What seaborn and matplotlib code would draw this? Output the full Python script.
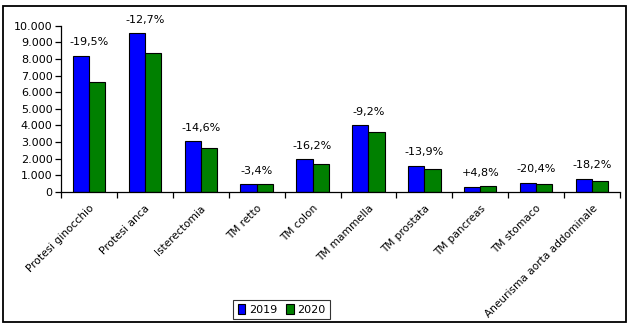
import matplotlib
matplotlib.use("Agg")
import matplotlib.pyplot as plt
import matplotlib.patches as mpatches
import seaborn as sns
import pandas as pd
import numpy as np

categories = ["Protesi ginocchio", "Protesi anca", "Isterectomia", "TM retto", "TM colon",
              "TM mammella", "TM prostata", "TM pancreas", "TM stomaco",
              "Aneurisma aorta addominale"]
v2019 = [8200, 9540, 3070, 480, 1990, 4000, 1590, 330, 570, 800]
v2020 = [6600, 8330, 2620, 464, 1670, 3630, 1370, 346, 454, 655]
pct_labels = ["-19,5%", "-12,7%", "-14,6%", "-3,4%", "-16,2%", "-9,2%", "-13,9%",
              "+4,8%", "-20,4%", "-18,2%"]
years = ["2019", "2020"]
yticks = [0, 1000, 2000, 3000, 4000, 5000, 6000, 7000, 8000, 9000, 10000]
ytick_labels = ["0", "1.000", "2.000", "3.000", "4.000", "5.000", "6.000", "7.000",
                "8.000", "9.000", "10.000"]

df = pd.DataFrame({
    "cat": categories * 2,
    "year": [years[0]] * len(categories) + [years[1]] * len(categories),
    "val": v2019 + v2020,
})

sns.set_style("white")
plt.rcParams["font.family"] = ["DejaVu Sans"]
plt.rcParams["text.color"] = "black"
plt.rcParams["xtick.color"] = "black"
plt.rcParams["ytick.color"] = "black"
plt.rcParams["axes.labelcolor"] = "black"

FS = 8

W, H = 633, 329
fig = plt.figure(figsize=(W / 100, H / 100), dpi=100)
ax = fig.add_axes([61 / W, 1 - 192 / H, (620 - 61) / W, (192 - 25.7) / H])

palette = {"2019": "#0000FF", "2020": "#008000"}
sns.barplot(data=df, x="cat", y="val", hue="year", palette=palette, ax=ax,
            width=0.58, edgecolor="black", linewidth=0.8, saturation=1,
            legend=False, order=categories, hue_order=years)

ax.set_xlim(-0.5, len(categories) - 0.5)
ax.set_ylim(0, 10000)
ax.set_yticks(yticks)
ax.set_yticklabels(ytick_labels, fontsize=FS)
ax.set_xlabel("")
ax.set_ylabel("")
for s in ["top", "right"]:
    ax.spines[s].set_visible(False)
for s in ["left", "bottom"]:
    ax.spines[s].set_color("black")
    ax.spines[s].set_linewidth(0.9)

ax.set_xticks(range(len(categories)))
ax.set_xticklabels(categories, rotation=45, ha="right", va="top",
                   rotation_mode="anchor", fontsize=7.6)
ax.tick_params(axis="x", which="major", length=0, pad=8)
ax.set_xticks(np.arange(-0.5, len(categories), 1), minor=True)
ax.tick_params(axis="x", which="minor", length=4, width=0.9, direction="out", color="black")
ax.tick_params(axis="y", length=4, width=0.9, direction="out", color="black", pad=2)
ax.tick_params(axis="both", which="both", bottom=True, left=True)

for i, lab in enumerate(pct_labels):
    top = max(v2019[i], v2020[i])
    ax.annotate(lab, xy=(i, top), xytext=(0, 6), textcoords="offset points",
                ha="center", va="bottom", fontsize=FS, color="black")

handles = [mpatches.Patch(facecolor=palette[y], edgecolor="black", linewidth=0.8, label=y)
           for y in years]
leg = fig.legend(handles=handles, loc="center", bbox_to_anchor=(281.5 / W, 1 - 309.5 / H),
                 ncol=2, fontsize=FS, frameon=True, fancybox=False,
                 handlelength=0.7, handleheight=0.9, handletextpad=0.3,
                 columnspacing=0.8, borderpad=0.4, borderaxespad=0)
leg.get_frame().set_edgecolor("black")
leg.get_frame().set_linewidth(0.8)

border = mpatches.Rectangle((3 / W, 1 - 322 / H), (626 - 3) / W, (322 - 6) / H,
                            transform=fig.transFigure, fill=False,
                            edgecolor="black", linewidth=1.3)
fig.patches.append(border)

fig.savefig("out.png", dpi=100)
